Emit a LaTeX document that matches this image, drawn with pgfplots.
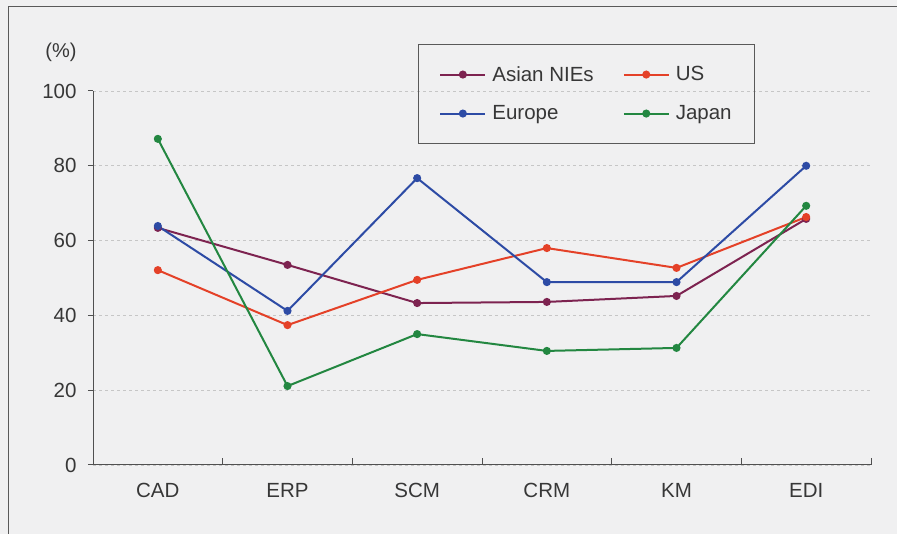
\documentclass[border=0pt]{standalone}
\usepackage{pgfplots}
\pgfplotsset{compat=1.18}
\usepackage{fontspec}
\setmainfont{Liberation Sans}
\definecolor{bg}{RGB}{240,240,241}
\definecolor{txt}{RGB}{55,55,55}
\definecolor{axc}{RGB}{80,80,80}
\definecolor{cnie}{RGB}{125,35,80}
\definecolor{cus}{RGB}{228,65,40}
\definecolor{ceu}{RGB}{45,75,165}
\definecolor{cjp}{RGB}{35,135,65}
\begin{document}
\begin{tikzpicture}
\useasboundingbox (0pt,0pt) rectangle (897pt,534pt);
\fill[bg] (0pt,0pt) rectangle (897pt,534pt);
\draw[gray!70!black,line width=1pt] (8pt,-10pt) -- (8pt,527pt) -- (910pt,527pt);
\node[txt,font=\fontsize{20}{22}\selectfont] at (61pt,482pt) {(\%)};
\begin{axis}[
  scale only axis,
  width=778pt, height=374pt,
  at={(93pt,69pt)}, anchor=south west,
  xmin=-0.5, xmax=5.5, ymin=0, ymax=100,
  axis lines=left,
  axis line style={axc, line width=1pt, -},
  /pgf/number format/assume math mode=true,
  xtick={0,1,2,3,4,5},
  xticklabels={CAD,ERP,SCM,CRM,KM,EDI},
  minor xtick={0.5,1.5,2.5,3.5,4.5,5.5},
  xtick align=inside,
  x tick style={draw=none},
  minor x tick style={draw=axc, line width=1pt},
  minor tick length=7pt,
  ytick={0,20,40,60,80,100},
  ytick align=outside,
  y tick style={draw=axc, line width=1pt},
  major tick length=5pt,
  ymajorgrids,
  grid style={dashed, gray!45, line width=0.8pt},
  tick label style={txt, font=\fontsize{20.5}{22}\selectfont},
  xticklabel style={yshift=-15pt},
  yticklabel style={xshift=-8pt},
  legend columns=2,
  legend cell align=left,
  legend style={at={(rel axis cs:0.4177,1.1257)}, anchor=north west,
    draw=gray!70!black, line width=0.8pt, fill=none, text=txt,
    font=\fontsize{20.5}{22}\selectfont,
    inner xsep=21pt, inner ysep=20pt, row sep=19pt,
    /tikz/every odd column/.append style={column sep=4pt},
    /tikz/every even column/.append style={column sep=27pt}},
  legend image code/.code={\draw[line width=2pt, mark repeat=2,mark phase=2] plot coordinates {(0pt,0pt) (22.5pt,0pt) (45pt,0pt)};},
  every axis plot/.append style={line width=2pt, mark=*, mark size=3pt},
]
\addplot[cnie, mark options={fill=cnie}] coordinates {(0,63.4) (1,53.5) (2,43.3) (3,43.6) (4,45.2) (5,65.8)};
\addlegendentry{Asian NIEs}
\addplot[cus, mark options={fill=cus}] coordinates {(0,52.1) (1,37.4) (2,49.5) (3,58.0) (4,52.7) (5,66.3)};
\addlegendentry{US}
\addplot[ceu, mark options={fill=ceu}] coordinates {(0,63.9) (1,41.2) (2,76.7) (3,48.9) (4,48.9) (5,80.0)};
\addlegendentry{Europe}
\addplot[cjp, mark options={fill=cjp}] coordinates {(0,87.2) (1,21.1) (2,35.0) (3,30.5) (4,31.3) (5,69.3)};
\addlegendentry{Japan}
\end{axis}
\end{tikzpicture}
\end{document}
